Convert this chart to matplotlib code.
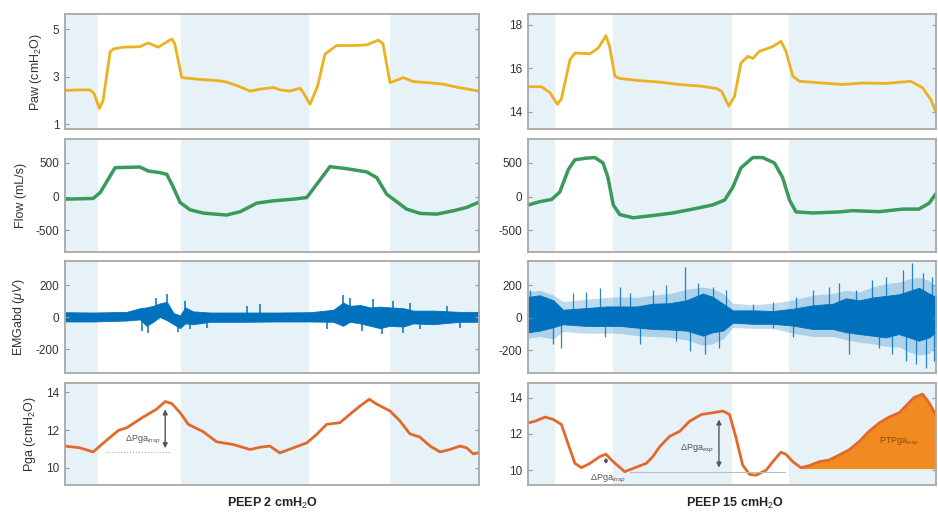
import numpy as np
import matplotlib.pyplot as plt

plt.rcParams['font.family'] = ['Liberation Sans', 'DejaVu Sans']
plt.rcParams['mathtext.fontset'] = 'custom'
plt.rcParams['mathtext.rm'] = 'Liberation Sans'
plt.rcParams['mathtext.it'] = 'Liberation Sans:italic'
plt.rcParams['axes.unicode_minus'] = False

# time axis is in % of the window shown in each column (0-100)
insp_left = [(8, 28), (59, 78.5)]
insp_right = [(6.6, 20.8), (50.1, 64)]

# Paw (cmH2O)
paw_l_t = [0, 4, 6, 7, 8.3, 9.2, 10.9, 11.7, 14, 18, 20.1, 22.5, 25.8, 26.5, 28.2, 32,
           37.4, 39, 42, 44.7, 47.1, 50.3, 52, 54.3, 56.8, 57.5, 59.2, 61, 62.8, 65.6,
           70, 72.9, 75.7, 76.8, 78.5, 80, 81.7, 84.1, 88, 91.4, 95, 100]
paw_l = [2.43, 2.45, 2.45, 2.3, 1.67, 2.0, 4.05, 4.18, 4.25, 4.27, 4.43, 4.25, 4.6, 4.4, 2.97, 2.9,
         2.83, 2.78, 2.6, 2.4, 2.48, 2.55, 2.45, 2.4, 2.52, 2.35, 1.84, 2.6, 3.96, 4.32,
         4.32, 4.35, 4.55, 4.4, 2.76, 2.85, 2.97, 2.8, 2.75, 2.69, 2.55, 2.4]
paw_r_t = [0.1, 3.3, 5.4, 7.2, 8.2, 10.3, 11.5, 15.2, 17.2, 19.1, 20.0, 21.3, 22.5, 26.6,
           32.3, 37.2, 42.1, 46.1, 47.4, 49.2, 50.6, 52.2, 53.9, 55.1, 56.7, 60.0, 62.0,
           63.2, 64.9, 66.5, 71.4, 77.1, 82.0, 87.7, 93.8, 96.7, 98.7, 99.9]
paw_r = [15.15, 15.15, 14.87, 14.34, 14.6, 16.4, 16.7, 16.67, 16.93, 17.5, 17.0, 15.63, 15.53, 15.44,
         15.36, 15.25, 15.18, 15.07, 14.95, 14.26, 14.7, 16.24, 16.55, 16.45, 16.78, 17.0, 17.24,
         16.8, 15.63, 15.4, 15.33, 15.25, 15.32, 15.3, 15.4, 15.1, 14.56, 14.03]

# Flow (mL/s)
flow_l_t = [0, 6.8, 8.5, 12.1, 18.1, 20.1, 22.9, 24.6, 26.2, 27.8, 30.2, 33.4, 39.0, 42.3,
            46.3, 50.3, 55.2, 58.4, 60.8, 64.0, 68.0, 72.9, 75.3, 77.7, 79.3, 82.5, 85.8,
            89.8, 93.8, 97.0, 99.8]
flow_l = [-39, -29, 59, 426, 436, 377, 353, 328, 132, -88, -196, -245, -274, -225,
          -98, -64, -39, -15, 181, 441, 412, 363, 279, 34, -39, -186, -250,
          -260, -211, -162, -88]
flow_r_t = [0.1, 2.9, 5.8, 7.8, 9.9, 11.5, 14.3, 16.4, 18.4, 19.6, 20.9, 22.5, 25.8, 30.6,
            35.5, 40.4, 45.3, 48.2, 50.2, 52.2, 55.1, 57.5, 60.4, 62.4, 64.1, 65.7, 69.8,
            76.3, 79.5, 86.1, 91.8, 95.8, 98.3, 100]
flow_r = [-124, -76, -43, 67, 400, 543, 567, 576, 495, 281, -124, -267, -314, -281,
          -243, -186, -124, -52, 138, 424, 576, 576, 495, 281, -52, -228, -243,
          -228, -209, -224, -186, -186, -100, 43]

# EMGabd (uV): dense core of the raw trace + the larger spikes
emg_l_t = [0, 6.8, 14.9, 18.1, 19.7, 21.3, 22.9, 24.6, 26.2, 27.8, 29.0, 31.0, 35.0, 43.1,
           51.1, 59.2, 64.8, 67.2, 68.8, 71.3, 73.7, 76.1, 78.5, 81.7, 84.1, 89.0, 95.4, 100]
emg_l_hi = [30, 28, 32, 55, 60, 70, 85, 95, 25, 10, 60, 35, 28, 28,
            28, 30, 45, 90, 70, 75, 60, 65, 60, 55, 40, 40, 32, 32]
emg_l_lo = [-28, -28, -22, -15, -55, -30, 0, -20, -45, -70, -40, -45, -30, -30,
            -28, -28, -30, -55, -30, -40, -55, -70, -55, -60, -40, -45, -30, -30]
spk_l_t = [18.5, 20.1, 22.1, 24.6, 27.4, 29.0, 30.2, 34.2, 43.9, 47.1, 63.2, 67.2, 68.8,
           71.7, 74.5, 76.5, 79.3, 81.7, 83.3, 85.7, 92.2, 95.4]
spk_l_lo = [-87, -98, -10, -20, -94, -20, -77, -67, -10, -10, -77, -20, -20,
            -87, -10, -108, -10, -98, -10, -77, -10, -67]
spk_l_hi = [20, 30, 121, 141, 0, 100, 10, 10, 69, 79, 10, 135, 121,
            10, 110, 0, 100, 0, 89, 10, 69, 10]

emg_r_t = [0.1, 2.9, 6.2, 8.6, 14.3, 19.2, 22.5, 26.6, 30.6, 34.7, 38.8, 42.9, 45.3, 47.8,
           50.2, 55.1, 60.0, 64.9, 69.8, 74.7, 77.9, 81.2, 84.4, 87.7, 90.9, 93.4, 95.8,
           98.3, 100]
emg_r_hi = [129, 139, 108, 50, 60, 70, 70, 70, 87, 90, 108, 150, 129, 87,
            46, 46, 42, 56, 77, 87, 120, 108, 125, 135, 145, 165, 185, 150, 129]
emg_r_lo = [-89, -79, -58, -40, -50, -50, -50, -60, -69, -72, -79, -110, -89, -79,
            -30, -37, -37, -48, -69, -69, -89, -100, -110, -121, -100, -121, -141, -121, -89]
emg_r_halo_hi = [160, 170, 140, 100, 115, 125, 130, 125, 140, 150, 175, 190, 180, 150,
                 90, 80, 90, 110, 140, 150, 170, 160, 190, 210, 220, 240, 250, 230, 190]
emg_r_halo_lo = [-125, -115, -130, -85, -95, -95, -95, -110, -115, -120, -135, -170, -160, -130,
                 -60, -65, -65, -95, -115, -115, -135, -150, -160, -175, -180, -210, -230, -220, -170]
spk_r_t = [0.5, 6.2, 8.2, 11.1, 14.3, 17.6, 18.8, 22.5, 24.9, 27.4, 30.6, 33.9, 36.3, 38.4,
           39.6, 41.6, 43.3, 45.3, 46.9, 48.6, 55.1, 60.0, 64.9, 65.7, 69.8, 73.8, 76.3, 78.7,
           80.4, 84.4, 86.1, 87.7, 89.3, 91.8, 92.6, 94.2, 95.0, 96.7, 97.5, 99.1, 99.5]
spk_r_lo = [-20, -162, -183, -20, -20, -20, -121, -20, -20, -162, -20, -20, -141, -20,
            -204, -20, -225, -20, -183, -20, -20, -60, -121, -20, -20, -20, -20, -225,
            -20, -20, -183, -20, -225, -20, -266, -20, -287, -20, -308, -20, -266]
spk_r_hi = [171, 20, 20, 150, 160, 181, 20, 191, 150, 20, 171, 202, 20, 316,
            20, 212, 20, 191, 20, 171, 87, 100, 20, 129, 171, 191, 212, 20,
            171, 233, 20, 254, 20, 295, 20, 337, 20, 275, 20, 254, 20]

# Pga (cmH2O)
pga_l_t = [0, 3.6, 6.8, 9.3, 12.9, 14.9, 18.9, 22.1, 24.2, 25.8, 27.8, 29.8, 33.4, 36.6,
           40.7, 44.7, 47.1, 49.5, 51.9, 55.2, 58.4, 60.8, 63.2, 66.4, 68.8, 71.3, 73.5,
           75.3, 78.5, 80.9, 83.3, 85.7, 88.2, 90.6, 93.0, 95.4, 97.0, 98.6, 99.8]
pga_l = [11.16, 11.07, 10.85, 11.33, 11.99, 12.13, 12.7, 13.11, 13.52, 13.41, 12.93, 12.31, 11.92, 11.39,
         11.24, 10.98, 11.1, 11.16, 10.8, 11.07, 11.33, 11.78, 12.31, 12.4, 12.84, 13.29, 13.64,
         13.38, 13.02, 12.49, 11.81, 11.64, 11.16, 10.85, 10.98, 11.16, 11.07, 10.75, 10.8]
pga_r_t = [0.1, 1.7, 4.2, 6.2, 8.2, 9.9, 11.5, 13.1, 15.2, 17.6, 19.1, 20.9, 23.7, 26.2,
           29.0, 30.6, 32.3, 34.7, 37.2, 39.6, 42.5, 45.3, 47.8, 49.4, 51.0, 52.6, 54.3,
           55.9, 58.4, 60.0, 62.0, 63.2, 64.9, 66.9, 68.9, 71.4, 73.8, 76.3, 78.7, 81.2,
           83.6, 86.1, 88.5, 91.0, 92.6, 94.6, 96.7, 98.3, 99.9]
pga_r = [12.61, 12.7, 12.93, 12.8, 12.52, 11.41, 10.39, 10.15, 10.39, 10.76, 10.89, 10.48, 9.93, 10.15,
         10.39, 10.76, 11.31, 11.87, 12.15, 12.7, 13.07, 13.17, 13.26, 13.07, 11.78, 10.3, 9.78,
         9.74, 10.02, 10.48, 11.0, 10.89, 10.48, 10.15, 10.26, 10.48, 10.57, 10.85, 11.13, 11.59,
         12.15, 12.61, 12.93, 13.17, 13.54, 14.0, 14.19, 13.72, 13.07]
ptp_base = 10.1
ptp_start = 66

titles = ['PEEP 2 cmH$_2$O', 'PEEP 15 cmH$_2$O']
ylabels = ['Paw (cmH$_2$O)', 'Flow (mL/s)', r'EMGabd ($\mu V$)', 'Pga (cmH$_2$O)']

c_paw = '#EDB120'
c_flow = '#3A9A5C'
c_emg = '#0072BD'
c_pga = '#E2692C'
c_ptp = '#F28A22'
bg = '#E6F1F8'
grey = '#555555'

fig = plt.figure(figsize=(9.38, 5.16), dpi=100)
W, H = 938, 516
cols = [(65, 414), (528, 408)]
rows = [(14, 129), (139, 252), (261, 373), (383, 485)]

axes = {}
for c, (x0, w) in enumerate(cols):
    for r, (y0, y1) in enumerate(rows):
        ax = fig.add_axes([x0 / W, 1 - y1 / H, w / W, (y1 - y0) / H])
        ax.set_facecolor(bg)
        for a, b in (insp_left if c == 0 else insp_right):
            ax.axvspan(a, b, color='white', lw=0, zorder=0)
        ax.set_xlim(0, 100)
        ax.set_xticks([])
        ax.tick_params(axis='y', direction='in', length=3, labelsize=8.5,
                       colors='#999999', labelcolor='#333333', right=True, pad=4)
        for s in ax.spines.values():
            s.set_color('#a8a8a8')
            s.set_linewidth(1.3)
        if c == 0:
            ax.set_ylabel(ylabels[r], fontsize=9, color='#333333', labelpad=6)
        axes[(c, r)] = ax

# Paw
ax = axes[(0, 0)]
ax.plot(paw_l_t, paw_l, color=c_paw, lw=2)
ax.set_ylim(0.8, 5.65)
ax.set_yticks([1, 3, 5])
ax = axes[(1, 0)]
ax.plot(paw_r_t, paw_r, color=c_paw, lw=2)
ax.set_ylim(13.2, 18.5)
ax.set_yticks([14, 16, 18])

# Flow
for c, (t, f) in enumerate([(flow_l_t, flow_l), (flow_r_t, flow_r)]):
    ax = axes[(c, 1)]
    ax.plot(t, f, color=c_flow, lw=2.5)
    ax.set_ylim(-820, 850)
    ax.set_yticks([-500, 0, 500])

# EMG
ax = axes[(0, 2)]
ax.fill_between(emg_l_t, emg_l_lo, emg_l_hi, color=c_emg, lw=0.6, edgecolor=c_emg)
ax.vlines(spk_l_t, spk_l_lo, spk_l_hi, color=c_emg, lw=1.1)
ax.set_ylim(-350, 350)
ax.set_yticks([-200, 0, 200])
ax = axes[(1, 2)]
ax.fill_between(emg_r_t, emg_r_halo_lo, emg_r_halo_hi, color=c_emg, lw=0, alpha=0.25)
ax.fill_between(emg_r_t, emg_r_lo, emg_r_hi, color=c_emg, lw=0.6, edgecolor=c_emg)
ax.vlines(spk_r_t, spk_r_lo, spk_r_hi, color=c_emg, lw=0.9, alpha=0.85)
ax.set_ylim(-340, 350)
ax.set_yticks([-200, 0, 200])

# Pga left
ax = axes[(0, 3)]
ax.plot(pga_l_t, pga_l, color=c_pga, lw=2)
ax.set_ylim(9.1, 14.5)
ax.set_yticks([10, 12, 14])
ax.plot([10, 25], [10.85, 10.85], color='#aaaaaa', lw=0.8, ls=':')
ax.annotate('', xy=(24.2, 13.25), xytext=(24.2, 10.9),
            arrowprops=dict(arrowstyle='<|-|>', color=grey, lw=1, mutation_scale=7))
ax.text(23, 11.5, r'$\Delta$Pga$_{insp}$', fontsize=6.5, color=grey, ha='right', va='center')

# Pga right
ax = axes[(1, 3)]
pga_r_arr = np.array(pga_r)
t_arr = np.array(pga_r_t)
ax.fill_between(t_arr, ptp_base, pga_r_arr, where=t_arr >= ptp_start, color=c_ptp, lw=0)
ax.plot(pga_r_t, pga_r, color=c_pga, lw=2)
ax.set_ylim(9.2, 14.8)
ax.set_yticks([10, 12, 14])
ax.plot([25, 63], [9.9, 9.9], color='#bbbbbb', lw=0.8)
ax.annotate('', xy=(19.1, 10.85), xytext=(19.1, 10.2),
            arrowprops=dict(arrowstyle='<|-|>', color=grey, lw=0.8, mutation_scale=5))
ax.text(19.5, 9.55, r'$\Delta$Pga$_{insp}$', fontsize=6.5, color=grey, ha='center', va='center')
ax.annotate('', xy=(46.8, 12.95), xytext=(46.8, 10.0),
            arrowprops=dict(arrowstyle='<|-|>', color=grey, lw=1, mutation_scale=7))
ax.text(45.5, 11.2, r'$\Delta$Pga$_{exp}$', fontsize=6.5, color=grey, ha='right', va='center')
ax.text(91, 11.55, 'PTPga$_{exp}$', fontsize=6.5, color='#8a4a10', ha='center', va='center')

fig.text(272 / W, 1 - 503 / H, titles[0], ha='center', va='center', fontsize=9,
         color='#222222', fontweight='semibold')
fig.text(735 / W, 1 - 503 / H, titles[1], ha='center', va='center', fontsize=9,
         color='#222222', fontweight='semibold')

fig.savefig('out.png', dpi=100)
